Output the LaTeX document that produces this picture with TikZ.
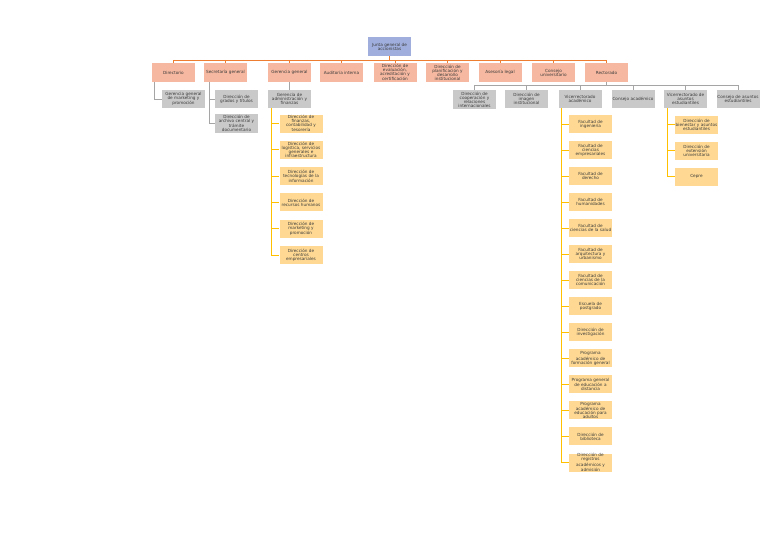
\documentclass[tikz,border=0pt]{standalone}
\usepackage{fontspec}
\setmainfont{DejaVu Sans}
\usetikzlibrary{calc}
\definecolor{salmon}{HTML}{F6B8A0}
\definecolor{bluebox}{HTML}{9FAEDC}
\definecolor{graybox}{HTML}{C9C9C9}
\definecolor{yelbox}{HTML}{FFD993}
\definecolor{orline}{HTML}{ED7D31}
\definecolor{grline}{HTML}{A5A5A5}
\definecolor{yeline}{HTML}{FFC000}
\definecolor{txt}{HTML}{3A3A3A}
\tikzset{
  boxbase/.style={inner sep=0pt, minimum width=43pt, text width=43pt, align=center,
    font=\fontsize{4.2}{4.1}\selectfont, text=txt},
  bluenode/.style={boxbase, fill=bluebox, minimum height=19pt},
  salnode/.style={boxbase, fill=salmon, minimum height=19pt},
  graynode/.style={boxbase, fill=graybox, minimum height=18pt},
  yelnode/.style={boxbase, fill=yelbox, minimum height=18pt},
  orconn/.style={draw=orline, line width=0.7pt},
  grconn/.style={draw=grline, line width=0.7pt},
  yeconn/.style={draw=yeline, line width=0.7pt}
}
\begin{document}
\begin{tikzpicture}[x=1pt,y=-1pt]
\useasboundingbox (0,0) rectangle (768,543);
% top
\node[bluenode] (junta) at (389.5,46.5) {Junta general de\\accionistas};
% row 1
\node[salnode] (dir) at (173.5,72.5) {Directorio};
\node[salnode] (sec) at (225.5,72.5) {Secretaría general};
\node[salnode] (ger) at (289.5,72.5) {Gerencia general};
\node[salnode] (aud) at (341.5,72.5) {Auditoría interna};
\node[salnode] (eva) at (395,72.5) {Dirección de\\evaluación,\\acreditación y\\certificación};
\node[salnode] (pla) at (447.5,72.5) {Dirección de\\planificación y\\desarrollo\\institucional};
\node[salnode] (ase) at (500,72.5) {Asesoría legal};
\node[salnode] (cu) at (553.5,72.5) {Consejo\\universitario};
\node[salnode] (rec) at (606.5,72.5) {Rectorado};
\coordinate (jbar) at ($(junta.south)+(0,4)$);
\foreach \n in {dir,sec,ger,aud,eva,pla,ase,cu,rec}{
  \draw[orconn] (junta.south) -- (jbar) -| (\n.north);
}
% Directorio
\node[graynode] (gmk) at (183.5,99) {Gerencia general\\de marketing y\\promoción};
\draw[grconn] ($(dir.south west)+(3,0)$) |- (gmk.west);
% Secretaria
\node[graynode] (gra) at (236.5,99) {Dirección de\\grados y títulos};
\node[graynode, minimum height=19pt] (arc) at (236.5,123.5) {Dirección de\\archivo central y\\trámite\\documentario};
\draw[grconn] ($(sec.south west)+(6,0)$) |- (gra.west);
\draw[grconn] ($(sec.south west)+(6,0)$) |- (arc.west);
% Gerencia general
\node[graynode] (gaf) at (289.5,99) {Gerencia de\\administración y\\finanzas};
\draw[grconn] (ger.south) -- (gaf.north);
\node[yelnode] (y1) at (301,123.5) {Dirección de\\finanzas,\\contabilidad y\\tesorería};
\node[yelnode] (y2) at (301,149.8) {Dirección de\\logística, servicios\\generales e\\infraestructura};
\node[yelnode] (y3) at (301,176.1) {Dirección de\\tecnologías de la\\información};
\node[yelnode] (y4) at (301,202.4) {Dirección de\\recursos humanos};
\node[yelnode] (y5) at (301,228.7) {Dirección de\\marketing y\\promoción};
\node[yelnode] (y6) at (301,255) {Dirección de\\centros\\empresariales};
\foreach \n in {y1,y2,y3,y4,y5,y6}{
  \draw[yeconn] ($(gaf.south west)+(4,0)$) |- (\n.west);
}
% Rectorado
\node[graynode, minimum height=19pt] (coo) at (474.5,99.5) {Dirección de\\cooperación y\\relaciones\\internacionales};
\node[graynode] (ima) at (526.5,99) {Dirección de\\imagen\\institucional};
\node[graynode] (vra) at (580,99) {Vicerrectorado\\académico};
\node[graynode] (cac) at (633,99) {Consejo académico};
\node[graynode] (vrae) at (685.5,99) {Vicerrectorado de\\asuntos\\estudiantiles};
\node[graynode] (cae) at (738,99) {Consejo de asuntos\\estudiantiles};
\coordinate (rbar) at ($(rec.south)+(0,3.5)$);
\foreach \n in {coo,ima,vra,cac,vrae,cae}{
  \draw[grconn] (rec.south) -- (rbar) -| (\n.north);
}
% Vicerrectorado academico
\foreach \n/\k/\t in {a1/0/{Facultad de\\ingeniería},
  a2/1/{Facultad de\\ciencias\\empresariales},
  a3/2/{Facultad de\\derecho},
  a4/3/{Facultad de\\humanidades},
  a5/4/{Facultad de\\ciencias de la salud},
  a6/5/{Facultad de\\arquitectura y\\urbanismo},
  a7/6/{Facultad de\\ciencias de la\\comunicación},
  a8/7/{Escuela de\\postgrado},
  a9/8/{Dirección de\\investigación},
  a10/9/{Programa\\académico de\\formación general},
  a11/10/{Programa general\\de educación a\\distancia},
  a12/11/{Programa\\académico de\\educación para\\adultos},
  a13/12/{Dirección de\\biblioteca},
  a14/13/{Dirección de\\registros\\académicos y\\admisión}}{
  \node[yelnode] (\n) at (590.5,124+26.04*\k) {\t};
  \draw[yeconn] ($(vra.south west)+(3.5,0)$) |- (\n.west);
}
% Vicerrectorado de asuntos estudiantiles
\node[yelnode] (e1) at (696.5,124.5) {Dirección de\\bienestar y asuntos\\estudiantiles};
\node[yelnode] (e2) at (696.5,150.5) {Dirección de\\extensión\\universitaria};
\node[yelnode] (e3) at (696.5,176.5) {Cepre};
\foreach \n in {e1,e2,e3}{
  \draw[yeconn] ($(vrae.south west)+(4,0)$) |- (\n.west);
}
\end{tikzpicture}
\end{document}
